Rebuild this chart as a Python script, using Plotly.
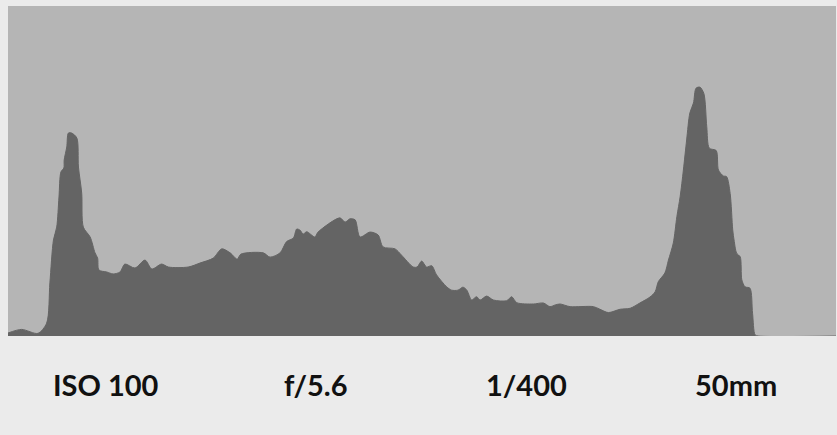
import plotly.graph_objects as go

# Tone level (0-255) and relative frequency (% of panel height)
tone = [0, 4.2, 9.2, 11.9, 12.9, 14.0, 15.0, 15.7, 16.3, 17.2, 17.3, 18.1, 18.6, 19.6,
        21.2, 21.7, 22.7, 23.2, 25.3, 26.8, 27.6, 28.0, 30.4, 32.4, 34.5, 36.0, 39.1,
        42.2, 44.3, 47.3, 49.4, 55.5, 59.1, 63.2, 65.8, 68.4, 70.6, 71.7, 78.6, 80.7,
        83.8, 85.8, 87.9, 88.9, 89.9, 90.9, 92.0, 94.5, 95.5, 102.2, 103.8, 105.3,
        106.9, 108.4, 111.5, 114.0, 115.5, 119.2, 121.2, 124.8, 126.0, 127.4, 128.9,
        130.5, 132.0, 135.1, 136.6, 138.6, 140.1, 141.3, 142.8, 144.3, 145.4, 147.4,
        149.5, 153.6, 155.1, 156.7, 161.8, 164.9, 166.9, 168.5, 170.0, 173.1, 180.3,
        182.3, 184.9, 188.5, 191.6, 194.6, 197.7, 199.3, 200.3, 202.3, 203.4, 204.9,
        206.0, 207.0, 208.0, 209.0, 210.0, 211.1, 211.9, 213.1, 214.3, 215.2, 216.0,
        218.1, 218.8, 220.3, 221.3, 222.4, 223.2, 223.6, 224.4, 225.5, 226.0, 227.0,
        228.5, 229.3, 230.1, 231.0, 255.0]
freq = [0.9, 2.0, 0.8, 3.9, 16.1, 29.1, 33.0, 42.1, 49.7, 50.9, 53.3, 57.3, 61.5, 61.5,
        60.0, 51.2, 43.3, 33.0, 30.0, 25.2, 23.6, 20.0, 19.4, 18.8, 19.4, 21.8, 20.6,
        23.0, 20.3, 21.8, 20.9, 20.9, 22.1, 23.6, 26.4, 25.2, 23.3, 24.8, 25.2, 23.9,
        25.2, 28.6, 29.7, 32.4, 32.1, 30.9, 31.6, 30.0, 31.5, 35.8, 34.5, 35.5,
        35.2, 30.0, 31.5, 30.6, 27.0, 26.4, 24.5, 20.9, 20.9, 22.7, 20.9,
        21.3, 18.5, 14.9, 13.9, 13.9, 14.8, 13.9, 10.9, 11.9, 10.9, 12.1,
        10.9, 10.7, 11.9, 10.1, 9.7, 10.0, 8.9, 9.4, 9.7, 8.9, 8.9,
        8.1, 7.1, 8.1, 8.4, 10.0, 11.8, 13.4, 16.5, 19.1, 23.0, 28.2,
        36.2, 42.2, 50.3, 59.4, 67.6, 70.6, 75.1, 75.4, 73.5, 63.4, 56.9,
        56.2, 50.3, 48.5, 48.3, 43.2, 32.1, 29.1, 25.1, 24.0, 17.0, 14.9,
        14.5, 6.9, 0.3, 0.0, 0.0]

labels = ["ISO 100", "f/5.6", "1/400", "50mm"]

fig = go.Figure()
fig.add_trace(go.Scatter(
    x=tone, y=freq, mode="lines", fill="tozeroy",
    line=dict(color="#646464", width=1, shape="spline", smoothing=0.8),
    fillcolor="#646464", hoverinfo="skip", showlegend=False,
))

label_pos = [0.1187, 0.3725, 0.6262, 0.8798]
for lab, xp in zip(labels, label_pos):
    fig.add_annotation(
        text=lab, x=xp, y=-0.148, xref="paper", yref="paper",
        xanchor="center", yanchor="middle", showarrow=False,
        font=dict(family="Lato", size=29, color="#111111", weight="bold"),
    )

fig.update_layout(
    width=837, height=435,
    margin=dict(l=8, r=1, t=6, b=99),
    paper_bgcolor="#ebebeb", plot_bgcolor="#b5b5b5",
    xaxis=dict(range=[0, 255], visible=False, fixedrange=True),
    yaxis=dict(range=[0, 100], visible=False, fixedrange=True),
    showlegend=False,
)

fig.write_html(
    "out.html",
    config={"displayModeBar": False},
    post_script="document.body.style.margin='0';document.body.style.background='#ebebeb';",
)
